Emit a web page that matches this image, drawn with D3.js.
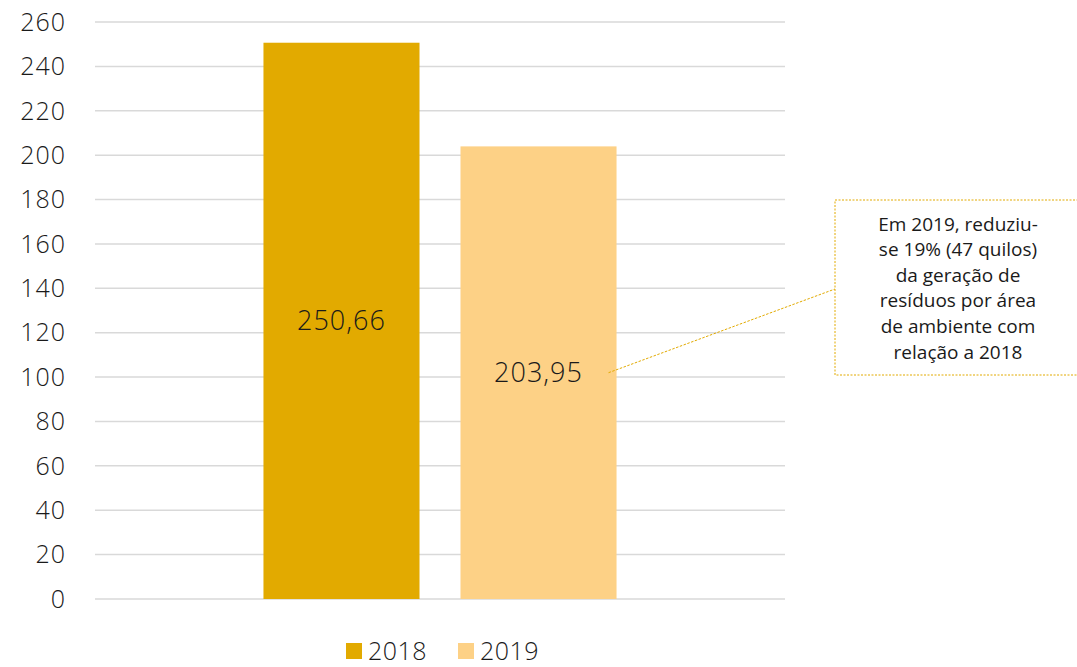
<!DOCTYPE html>
<html>
<head>
<meta charset="utf-8">
<script src="https://cdn.jsdelivr.net/npm/d3@7"></script>
<style>
  body { margin: 0; background: #fff; }
  text { font-family: "Open Sans", Lato, sans-serif; font-weight: 300; fill: #1a1a1a; }
</style>
</head>
<body>
<div id="chart"></div>
<script>
// dados
let years = ["2018", "2019"];
let values = [250.66, 203.95];
let labels = ["250,66", "203,95"];
let colors = ["#E2AA00", "#FDD186"];
let yTicks = [0, 20, 40, 60, 80, 100, 120, 140, 160, 180, 200, 220, 240, 260];
let note = ["Em 2019, reduziu-", "se 19% (47 quilos)", "da geração de", "resíduos por área", "de ambiente com", "relação a 2018"];

let width = 1077,
height = 667;

let svg = d3.select("#chart")
  .append("svg")
  .attr("width", width)
  .attr("height", height);

let x = d3.scaleBand()
  .domain(years)
  .range([95, 785])
  .paddingInner(0.208)
  .paddingOuter(0.855);

let y = d3.scaleLinear()
  .domain([0, 260])
  .range([599, 22]);

// grade
svg.append("g")
  .selectAll("line")
  .data(yTicks)
  .join("line")
  .attr("x1", 95)
  .attr("x2", 785)
  .attr("y1", d => y(d))
  .attr("y2", d => y(d))
  .attr("stroke", "#d9d9d9")
  .attr("stroke-width", 1.5);

svg.append("g")
  .selectAll("text")
  .data(yTicks)
  .join("text")
  .attr("x", 66)
  .attr("y", d => y(d))
  .attr("dy", "0.35em")
  .attr("text-anchor", "end")
  .style("font-size", "25px")
  .style("letter-spacing", "1px")
  .text(d => d);

// barras
svg.append("g")
  .selectAll("rect")
  .data(years)
  .join("rect")
  .attr("x", d => x(d))
  .attr("width", x.bandwidth())
  .attr("y", (d, i) => y(values[i]))
  .attr("height", (d, i) => y(0) - y(values[i]))
  .attr("fill", (d, i) => colors[i]);

svg.append("g")
  .selectAll("text")
  .data(years)
  .join("text")
  .attr("x", d => x(d) + x.bandwidth() / 2)
  .attr("y", (d, i) => (y(values[i]) + y(0)) / 2)
  .attr("dy", "0.35em")
  .attr("text-anchor", "middle")
  .style("font-size", "27px")
  .style("letter-spacing", "1px")
  .text((d, i) => labels[i]);

// nota
let bx = 835, by = 200, bw = 245, bh = 175;

svg.append("line")
  .attr("x1", x("2019") + x.bandwidth() - 8)
  .attr("y1", (y(values[1]) + y(0)) / 2)
  .attr("x2", bx)
  .attr("y2", 289)
  .attr("stroke", "#E2AA00")
  .attr("stroke-width", 1)
  .attr("stroke-dasharray", "2.5,1.5");

svg.append("rect")
  .attr("x", bx)
  .attr("y", by)
  .attr("width", bw)
  .attr("height", bh)
  .attr("fill", "none")
  .attr("stroke", "#E2AA00")
  .attr("stroke-width", 1)
  .attr("stroke-dasharray", "2,1.5");

svg.append("g")
  .selectAll("text")
  .data(note)
  .join("text")
  .attr("x", 958)
  .attr("y", (d, i) => 224 + i * 25.6)
  .attr("dy", "0.35em")
  .attr("text-anchor", "middle")
  .style("font-size", "19px")
  .style("font-weight", 400)
  .text(d => d);

// legenda
let leg = svg.append("g")
  .selectAll("g")
  .data(years)
  .join("g")
  .attr("transform", (d, i) => `translate(${346 + i * 112},651)`);

leg.append("rect")
  .attr("x", 0)
  .attr("y", -8)
  .attr("width", 16)
  .attr("height", 16)
  .attr("fill", (d, i) => colors[i]);

leg.append("text")
  .attr("x", 22)
  .attr("dy", "0.35em")
  .style("font-size", "25px")
  .style("letter-spacing", "0.5px")
  .text(d => d);
</script>
</body>
</html>
